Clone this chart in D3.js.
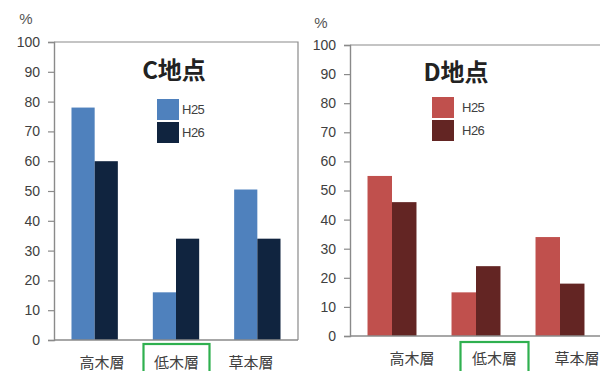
<!DOCTYPE html>
<html>
<head>
<meta charset="utf-8">
<script src="https://cdn.jsdelivr.net/npm/d3@7"></script>
<style>
  html, body { margin: 0; padding: 0; background: #fff; }
  svg { display: block; font-family: "Liberation Sans", "Noto Sans CJK JP", sans-serif; }
</style>
</head>
<body>
<svg id="chart" width="600" height="371"></svg>
<script>
// Layer categories and survey years
const layers = ["高木層", "低木層", "草本層"];
const years = ["H25", "H26"];
const yTicks = [0, 10, 20, 30, 40, 50, 60, 70, 80, 90, 100];

// Share (%) per layer, site C
const siteC_H25 = [78, 16, 50.5];
const siteC_H26 = [60, 34, 34];
// Share (%) per layer, site D
const siteD_H25 = [55, 15, 34];
const siteD_H26 = [46, 24, 18];

const highlighted = "低木層";

const svg = d3.select("#chart");

function drawPanel(cfg) {
  const g = svg.append("g");
  const rows = layers.map((l, i) => ({ layer: l, values: [cfg.a[i], cfg.b[i]] }));

  const x = d3.scaleBand().domain(layers).range([cfg.x0, cfg.x1])
    .paddingInner(cfg.pad).paddingOuter(cfg.pad / 2);
  const xs = d3.scaleBand().domain(years).range([0, x.bandwidth()]);
  const xl = d3.scalePoint().domain(layers).range(cfg.labelRange).padding(0.5);
  const y = d3.scaleLinear().domain([0, 100]).range([cfg.y0, cfg.y1]);
  const color = d3.scaleOrdinal().domain(years).range(cfg.colors);

  // plot frame: top and right edges
  g.append("path")
    .attr("d", `M${cfg.x0},${y(100)}H${cfg.frameRight}V${y(0)}`)
    .attr("fill", "none").attr("stroke", "#8a8a8a").attr("stroke-width", 1.2);

  // bars
  g.selectAll("g.grp").data(rows).join("g")
    .attr("transform", d => `translate(${x(d.layer)},0)`)
    .selectAll("rect").data(d => d.values.map((v, i) => ({ year: years[i], v })))
    .join("rect")
      .attr("x", d => xs(d.year))
      .attr("width", xs.bandwidth())
      .attr("y", d => y(d.v))
      .attr("height", d => y(0) - y(d.v))
      .attr("fill", d => color(d.year));

  // y axis
  const ax = g.append("g").attr("transform", `translate(${cfg.x0},0)`)
    .call(d3.axisLeft(y).tickValues(yTicks).tickSize(6).tickPadding(8));
  ax.select(".domain").attr("stroke", "#8a8a8a").attr("stroke-width", 1.4);
  ax.selectAll(".tick line").attr("stroke", "#8a8a8a").attr("stroke-width", 1.2);
  ax.selectAll(".tick text").attr("fill", "#404040").attr("font-size", 14)
    .attr("font-family", "Liberation Sans, sans-serif");

  // x baseline
  g.append("line")
    .attr("x1", cfg.x0).attr("x2", cfg.frameRight)
    .attr("y1", y(0)).attr("y2", y(0))
    .attr("stroke", "#8a8a8a").attr("stroke-width", 1.4);

  // unit
  g.append("text").attr("x", cfg.unitPos[0]).attr("y", cfg.unitPos[1])
    .attr("text-anchor", "middle").attr("font-size", 15).attr("fill", "#555").text("%");

  // title
  g.append("text").attr("x", cfg.titlePos[0]).attr("y", cfg.titlePos[1])
    .attr("text-anchor", "middle").attr("font-size", 24).attr("font-weight", "bold")
    .attr("font-family", "Noto Sans CJK JP, sans-serif").attr("fill", "#222")
    .text(cfg.title);

  // legend
  const lg = g.append("g").attr("transform", `translate(${cfg.legendPos[0]},${cfg.legendPos[1]})`);
  years.forEach((yr, i) => {
    lg.append("rect").attr("x", 0).attr("y", i * 23).attr("width", 22).attr("height", 21)
      .attr("fill", color(yr));
    lg.append("text").attr("x", cfg.legendTextDx).attr("y", i * 23 + 15)
      .attr("font-size", 13).attr("fill", "#404040").attr("letter-spacing", -0.5)
      .text(yr);
  });

  // category labels
  g.selectAll("text.cat").data(layers).join("text")
    .attr("class", "cat")
    .attr("x", d => xl(d)).attr("y", cfg.labelY)
    .attr("text-anchor", "middle").attr("font-size", 15)
    .attr("font-family", "Noto Sans CJK JP, sans-serif").attr("fill", "#404040")
    .text(d => d);

  // highlight box around the shrub layer label
  g.append("rect")
    .attr("x", xl(highlighted) - cfg.boxW / 2).attr("y", cfg.boxY)
    .attr("width", cfg.boxW).attr("height", 40)
    .attr("fill", "none").attr("stroke", "#2fb04f").attr("stroke-width", 2.2);
}

drawPanel({
  title: "C地点", a: siteC_H25, b: siteC_H26,
  colors: ["#4f81bd", "#10243f"],
  x0: 54, x1: 298, frameRight: 298, pad: 0.43,
  y0: 340, y1: 42,
  labelRange: [64.75, 288.25], labelY: 368,
  unitPos: [26, 24], titlePos: [174, 79],
  legendPos: [157, 99], legendTextDx: 25,
  boxW: 66, boxY: 344
});

drawPanel({
  title: "D地点", a: siteD_H25, b: siteD_H26,
  colors: ["#c0504d", "#632523"],
  x0: 350, x1: 602, frameRight: 610, pad: 0.417,
  y0: 336, y1: 45,
  labelRange: [370.75, 618.25], labelY: 364,
  unitPos: [321, 28], titlePos: [456, 81],
  legendPos: [432, 97], legendTextDx: 30,
  boxW: 68, boxY: 342
});
</script>
</body>
</html>
